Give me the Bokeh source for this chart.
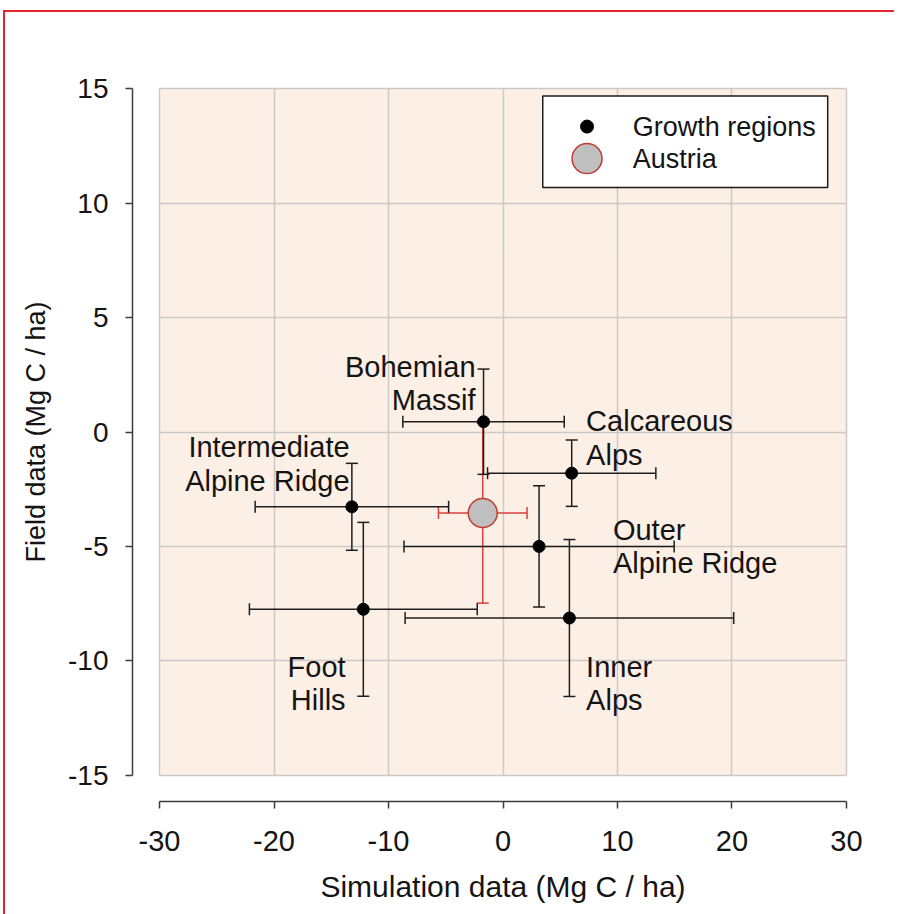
from bokeh.plotting import figure
from bokeh.models import ColumnDataSource, FixedTicker, BoxAnnotation
from bokeh.core.properties import value
from bokeh.embed import file_html
from bokeh.resources import INLINE

# Growth regions: simulated vs. field carbon change (Mg C / ha) with error bars
regions = ["Bohemian Massif", "Calcareous Alps", "Intermediate Alpine Ridge",
           "Outer Alpine Ridge", "Foot Hills", "Inner Alps"]
sim_mean = [-1.7, 6.0, -13.2, 3.15, -12.2, 5.8]
sim_err = [7.05, 7.35, 8.45, 11.8, 9.95, 14.35]
field_mean = [0.45, -1.8, -3.27, -5.0, -7.75, -8.13]
field_err = [2.3, 1.45, 1.9, 2.65, 3.8, 3.43]

# Austria as a whole
austria_sim = [-1.77]
austria_sim_err = [3.87]
austria_field = [-3.54]
austria_field_err = [3.94]

x_ticks = [-30, -20, -10, 0, 10, 20, 30]
x_tick_labels = ["-30", "-20", "-10", "0", "10", "20", "30"]
y_ticks = [-15, -10, -5, 0, 5, 10, 15]
y_tick_labels = ["-15", "-10", "-5", "0", "5", "10", "15"]

point_labels = ["Bohemian\nMassif", "Calcareous\nAlps", "Intermediate\nAlpine Ridge",
                "Outer\nAlpine Ridge", "Foot\nHills", "Inner\nAlps"]
legend_labels = ["Growth regions", "Austria"]

# where each region label's first line sits, and how it is aligned
label_anchor = [(-2.4, 2.86, "right"), (7.26, 0.47, "left"), (-13.4, -0.66, "right"),
                (9.6, -4.27, "left"), (-13.75, -10.25, "right"), (7.26, -10.25, "left")]

FONT = "Liberation Sans"
TXT = "#141414"
AX = "#3c3c3c"
GRID = "#c9c9c9"
PANEL = "#fcefe5"
RED = "#d8413c"
BORDER_RED = "#e3262e"

# the frame reaches past the shaded panel by the same amount on every side,
# so the axes sit a little away from the panel and the titles stay centred on it
p = figure(width=891, height=904,
           x_range=(-32.36, 32.36), y_range=(-16.15, 16.15),
           output_backend="svg", toolbar_location=None,
           min_border_left=129, min_border_right=21,
           min_border_top=52, min_border_bottom=113,
           background_fill_color="white", border_fill_alpha=0.0,
           outline_line_color=None)
# thin red rule along the top and left edges of the page, painted as the
# element's background and seen through the transparent border area
rule = f"linear-gradient({BORDER_RED}, {BORDER_RED})"
p.styles = {"margin-left": "3px", "margin-top": "10px",
            "background": (f"{rule} left top / 100% 2px no-repeat, "
                           f"{rule} left top / 2px 100% no-repeat, white")}

# shaded plotting panel
p.add_layout(BoxAnnotation(left=x_ticks[0], right=x_ticks[-1],
                           bottom=y_ticks[0], top=y_ticks[-1],
                           fill_color=PANEL, fill_alpha=1.0, line_color=None,
                           level="image"))

# axes, offset from the panel
for ax, ticks, labels in ((p.xaxis, x_ticks, x_tick_labels), (p.yaxis, y_ticks, y_tick_labels)):
    ax.ticker = FixedTicker(ticks=ticks)
    ax.bounds = (ticks[0], ticks[-1])
    ax.major_label_overrides = {t: l for t, l in zip(ticks, labels)}
    ax.minor_tick_line_color = None
    ax.major_tick_in = 0
    ax.major_tick_out = 7
    ax.axis_line_color = AX
    ax.axis_line_width = 1.5
    ax.major_tick_line_color = AX
    ax.major_tick_line_width = 1.5
    ax.major_label_text_font = FONT
    ax.major_label_text_color = TXT
    ax.axis_label_text_font = FONT
    ax.axis_label_text_font_style = "normal"
    ax.axis_label_text_color = TXT

p.xaxis.axis_label = "Simulation data (Mg C / ha)"
p.xaxis.major_label_text_font_size = "29px"
p.xaxis.axis_label_text_font_size = "30px"
p.xaxis.major_label_standoff = 22
p.xaxis.axis_label_standoff = 16

p.yaxis.axis_label = "Field data (Mg C / ha)"
p.yaxis.major_label_text_font_size = "28px"
p.yaxis.axis_label_text_font_size = "27px"
p.yaxis.major_label_standoff = 17
p.yaxis.axis_label_standoff = 14

# grid confined to the panel
p.xgrid.ticker = FixedTicker(ticks=x_ticks)
p.ygrid.ticker = FixedTicker(ticks=y_ticks)
p.xgrid.bounds = (x_ticks[0], x_ticks[-1])
p.xgrid.cross_bounds = (y_ticks[0], y_ticks[-1])
p.ygrid.bounds = (y_ticks[0], y_ticks[-1])
p.ygrid.cross_bounds = (x_ticks[0], x_ticks[-1])
for g in (p.xgrid, p.ygrid):
    g.grid_line_color = GRID
    g.grid_line_width = 1.5


def error_source(x, xe, y, ye):
    return ColumnDataSource(dict(
        x=x, y=y,
        x_lo=[a - e for a, e in zip(x, xe)], x_hi=[a + e for a, e in zip(x, xe)],
        y_lo=[a - e for a, e in zip(y, ye)], y_hi=[a + e for a, e in zip(y, ye)],
    ))


def draw_errors(src, color):
    p.segment(x0="x", y0="y_lo", x1="x", y1="y_hi", source=src, line_color=color, line_width=1.5)
    p.segment(x0="x_lo", y0="y", x1="x_hi", y1="y", source=src, line_color=color, line_width=1.5)
    for col in ("y_lo", "y_hi"):
        p.scatter(x="x", y=col, source=src, marker="dash", size=12,
                  line_color=color, line_width=1.5)
    for col in ("x_lo", "x_hi"):
        p.scatter(x=col, y="y", source=src, marker="dash", angle=1.5707963, size=12,
                  line_color=color, line_width=1.5)


aus = error_source(austria_sim, austria_sim_err, austria_field, austria_field_err)
reg = error_source(sim_mean, sim_err, field_mean, field_err)

draw_errors(aus, RED)
p.scatter(x="x", y="y", source=aus, size=29, fill_color="#bfbfbf",
          line_color="#c23b33", line_width=1.5)
draw_errors(reg, "#1e1e1e")
p.scatter(x="x", y="y", source=reg, size=12, fill_color="black", line_color="black")

# region labels, one text row per line
for align in ("left", "right"):
    xs, ys, txt, offs = [], [], [], []
    for name, (ax_, ay_, al) in zip(point_labels, label_anchor):
        if al != align:
            continue
        for i, line in enumerate(name.split("\n")):
            xs.append(ax_)
            ys.append(ay_)
            txt.append(line)
            offs.append(i * 33.5)
    p.text(x=xs, y=ys, text=txt, y_offset=offs, text_align=align,
           text_baseline="alphabetic", text_font=value(FONT),
           text_font_size="29px", text_color=TXT)

# legend box
p.quad(left=[3.47], right=[28.36], bottom=[10.69], top=[14.69],
       fill_color="white", line_color="#1a1a1a", line_width=1.5)
p.scatter(x=[7.34], y=[13.35], size=13, fill_color="black", line_color="black")
p.scatter(x=[7.34], y=[11.95], size=30, fill_color="#bfbfbf",
          line_color="#c23b33", line_width=1.5)
p.text(x=[11.33, 11.33], y=[13.35, 11.95], text=legend_labels,
       text_baseline="middle", text_align="left", text_font=value(FONT),
       text_font_size="27px", text_color=TXT)

open("out.html", "w").write(file_html(p, INLINE))
